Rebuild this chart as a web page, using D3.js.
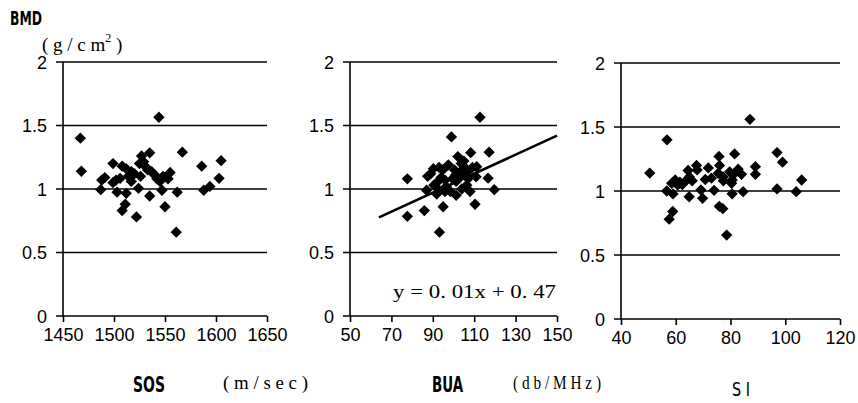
<!DOCTYPE html>
<html>
<head>
<meta charset="utf-8">
<script src="https://cdn.jsdelivr.net/npm/d3@7"></script>
<style>
  body { margin: 0; background: #fff; }
  svg { display: block; }
</style>
</head>
<body>
<svg id="chart" width="858" height="403"></svg>
<script>
"use strict";

// BMD (g/cm2) against each ultrasound parameter
var sosData = [
  [1544, 1.565], [1467, 1.40], [1468, 1.14], [1567, 1.29], [1605, 1.223], [1586, 1.18],
  [1603, 1.084], [1594, 1.02], [1588, 0.99], [1562, 0.975], [1561, 0.66], [1550, 0.86],
  [1547, 0.99], [1535, 0.945], [1522, 0.78], [1524, 1.005], [1508, 0.83], [1511, 0.88],
  [1512, 0.966], [1487, 0.995], [1488, 1.07], [1491, 1.09], [1499, 1.20], [1499, 1.05],
  [1503, 0.975], [1506, 1.084], [1508, 1.18], [1512, 1.16], [1517, 1.136], [1517, 1.06],
  [1527, 1.26], [1535, 1.285], [1529, 1.215], [1531, 1.176], [1526, 1.10], [1537, 1.136],
  [1542, 1.08], [1545, 1.06], [1555, 1.13], [1553, 1.08], [1520, 1.12], [1533, 1.15],
  [1540, 1.11], [1502, 1.07], [1514, 1.10], [1525, 1.20], [1548, 1.10]
]

var buaData = [
  [112.8, 1.565], [99, 1.41], [77.7, 1.08], [77.7, 0.785], [85.9, 0.83], [93.2, 0.66],
  [95, 0.86], [110.4, 0.88], [119.7, 0.995], [116.7, 1.085], [117.2, 1.29], [108.3, 1.286],
  [101.3, 0.95], [87.5, 1.10], [87, 0.99], [90.3, 1.16], [91.9, 1.05], [91.9, 0.96],
  [95.9, 1.07], [94.8, 1.15], [97.5, 1.19], [95.9, 0.98], [101.3, 1.06], [102.1, 1.255],
  [103.7, 1.20], [104.2, 1.15], [103.2, 1.10], [106.4, 1.03], [108, 0.98], [106.4, 1.13],
  [109.2, 1.17], [111.2, 1.175], [110.9, 1.096], [101, 1.11], [89, 1.12], [92.5, 1.0],
  [93, 1.17], [96.5, 1.02], [99.5, 1.08], [105, 1.22], [107, 1.08], [104, 1.0],
  [98.5, 0.98], [90.5, 1.03], [100.5, 1.15], [94, 1.09], [105.5, 1.17]
]

var siData = [
  [50.5, 1.14], [56.8, 1.40], [56.7, 1.0], [57.6, 0.78], [58.9, 0.84], [59, 0.977],
  [58.5, 1.06], [59.8, 1.086], [60.7, 1.047], [62.4, 1.05], [64, 1.086], [64.5, 1.16],
  [64.9, 0.955], [65, 1.11], [67.6, 1.20], [67.8, 1.165], [69.8, 0.943], [69.2, 1.008],
  [70.8, 1.09], [71.9, 1.18], [74, 1.005], [75.8, 1.27], [76, 1.20], [75.5, 1.138],
  [75.9, 0.88], [77.2, 0.862], [77.3, 1.11], [77.4, 1.08], [78.6, 0.656], [79.7, 1.15],
  [80.6, 0.978], [80.6, 1.086], [80.9, 1.125], [80.4, 1.06], [81.5, 1.29], [82.8, 1.17],
  [84, 1.13], [84.6, 0.995], [87.1, 1.56], [89.1, 1.19], [89.1, 1.13], [97, 1.30],
  [99, 1.225], [97, 1.016], [104, 0.995], [106, 1.086], [73, 1.10], [66, 1.08], [61.5, 1.07]
]

// regression line drawn on the BUA panel (end points)
var buaTrend = [[64, 0.777], [150, 1.42]]

var yTicks = [0, 0.5, 1, 1.5, 2]
var sosTicks = [1450, 1500, 1550, 1600, 1650]
var buaTicks = [50, 70, 90, 110, 130, 150]
var siTicks = [40, 60, 80, 100, 120]

var svg = d3.select("#chart")
var tickFont = "'Liberation Sans', Arial, sans-serif"
var serifFont = "'Liberation Serif', 'DejaVu Serif', serif"
var gothicFont = "'DejaVu Sans Condensed', 'DejaVu Sans', sans-serif"

/**
 * Draws one scatter panel: gridlines, axes, diamonds.
 */
function panel(opts) {
  var x = d3.scaleLinear().domain(opts.xDomain).range([opts.left, opts.right])
  var y = d3.scaleLinear().domain([0, 2]).range([opts.bottom, opts.top])
  var g = svg.append("g")

  // horizontal gridlines (including the small tick to the left of the axis)
  g.selectAll("line.grid")
    .data(yTicks.filter(function(d) { return d > 0 }))
    .enter().append("line")
      .attr("x1", opts.left - 7).attr("x2", opts.right)
      .attr("y1", function(d) { return y(d) }).attr("y2", function(d) { return y(d) })
      .attr("stroke", "#000").attr("stroke-width", 1.6)

  // y tick labels
  g.selectAll("text.yt")
    .data(yTicks)
    .enter().append("text")
      .attr("x", opts.left - 16)
      .attr("y", function(d) { return y(d) + 6.5 })
      .attr("text-anchor", "end")
      .style("font-family", tickFont).style("font-size", "18px")
      .text(function(d) { return d })

  // x axis
  var xAxis = d3.axisBottom(x).tickValues(opts.xTicks).tickFormat(d3.format("d"))
    .tickSize(6).tickSizeOuter(0)
  var ax = g.append("g").attr("transform", "translate(0," + opts.bottom + ")").call(xAxis)
  ax.select(".domain").attr("stroke", "#000").attr("stroke-width", 1.6)
    .attr("d", "M" + (opts.left - 7) + ",0H" + opts.right)
  ax.selectAll(".tick line").attr("stroke", "#000").attr("stroke-width", 1.6)
  ax.selectAll(".tick text")
    .attr("y", 12).attr("dy", "0.71em")
    .style("font-family", tickFont).style("font-size", "18px").attr("fill", "#000")

  // y axis line
  g.append("line")
    .attr("x1", opts.left).attr("x2", opts.left)
    .attr("y1", opts.top).attr("y2", opts.bottom)
    .attr("stroke", "#000").attr("stroke-width", 1.6)

  // trend line if any
  if (opts.trend) {
    g.append("path")
      .datum(opts.trend)
      .attr("d", d3.line().x(function(d) { return x(d[0]) }).y(function(d) { return y(d[1]) }))
      .attr("fill", "none").attr("stroke", "#000").attr("stroke-width", 2.6)
  }

  // diamonds
  var diamond = d3.symbol().type(d3.symbolSquare).size(64)
  g.selectAll("path.pt")
    .data(opts.data)
    .enter().append("path")
      .attr("d", diamond)
      .attr("transform", function(d) { return "translate(" + x(d[0]) + "," + y(d[1]) + ") rotate(45)" })
      .attr("fill", "#000")
}

panel({ data: sosData, xDomain: [1450, 1650], xTicks: sosTicks, left: 63, right: 267, top: 62, bottom: 316 })
panel({ data: buaData, xDomain: [50, 150], xTicks: buaTicks, left: 350, right: 557, top: 62, bottom: 316, trend: buaTrend })
panel({ data: siData, xDomain: [40, 120], xTicks: siTicks, left: 621, right: 840, top: 63, bottom: 319 })

// titles and units
function label(txt, x, y, font, size, len, weight) {
  var t = svg.append("text")
    .attr("x", x).attr("y", y)
    .style("font-family", font).style("font-size", size + "px")
    .style("font-weight", weight || "normal")
    .attr("textLength", len).attr("lengthAdjust", "spacingAndGlyphs")
    .text(txt)
  return t
}

label("BMD", 10, 25, gothicFont, 19, 32, "bold")
var unit = svg.append("text")
  .attr("x", 42).attr("y", 51)
  .style("font-family", serifFont).style("font-size", "19px")
unit.append("tspan").text("( g / c m")
unit.append("tspan").attr("dy", -9).style("font-size", "12px").text("2")
unit.append("tspan").attr("dy", 9).text(" )")

label("SOS", 133, 392, gothicFont, 21, 32, "bold")
label("( m / s e c )", 223, 389, serifFont, 19, 85)
label("BUA", 432, 392, gothicFont, 21, 31, "bold")
label("( d b / M H z )", 513, 389, serifFont, 19, 88)
label("S I", 732, 396, gothicFont, 19, 18)
label("y = 0. 01x + 0. 47", 393, 298, serifFont, 19, 163)
</script>
</body>
</html>
